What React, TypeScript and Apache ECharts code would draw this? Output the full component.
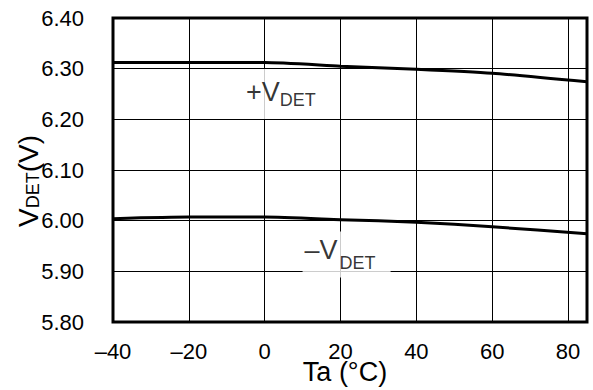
import React, { useEffect, useRef } from "react";
import * as echarts from "echarts";

// Ambient temperature (°C)
const temps = [-40, -20, 0, 20, 40, 60, 85];
// Detection voltages (V)
const vdetPlus = [6.312, 6.312, 6.312, 6.305, 6.299, 6.291, 6.274];
const vdetMinus = [6.004, 6.007, 6.007, 6.002, 5.997, 5.988, 5.974];

// Axis ticks
const xTicks = [-40, -20, 0, 20, 40, 60, 80];
const yTicks = [5.8, 5.9, 6.0, 6.1, 6.2, 6.3, 6.4];

// Curve label anchors [temp, voltage]
const plusLabelAt = [4.8, 6.25];
const minusLabelAt = [21.6, 5.933];

const FONT = "'Liberation Sans', Arial, sans-serif";

export default function App() {
  const ref = useRef<HTMLDivElement>(null);

  useEffect(() => {
    if (!ref.current) return;
    const chart = echarts.init(ref.current, null, { renderer: "svg" });
    const fmtX = (v: number) => {
      if (!xTicks.includes(v)) return "";
      return v < 0 ? "\u2013" + Math.abs(v) : String(v);
    };
    const fmtY = (v: number) => {
      const t = yTicks.find((y) => Math.abs(y - v) < 1e-6);
      return t === undefined ? "" : t.toFixed(2);
    };
    chart.setOption({
      animation: false,
      backgroundColor: "#fff",
      textStyle: { fontFamily: FONT, color: "#000" },
      grid: {
        left: 113,
        right: 6,
        top: 18,
        bottom: 68,
        show: true,
        borderColor: "#000",
        borderWidth: 3,
        backgroundColor: "transparent",
      },
      xAxis: {
        type: "value",
        min: -40,
        max: 85,
        interval: 20,
        axisLine: { show: false },
        axisTick: { show: false },
        splitLine: { show: true, lineStyle: { color: "#000", width: 1 } },
        axisLabel: {
          formatter: fmtX,
          fontSize: 22,
          color: "#000",
          fontFamily: FONT,
          margin: 18,
          showMaxLabel: false,
        },
      },
      yAxis: {
        type: "value",
        min: 5.8,
        max: 6.4,
        interval: 0.1,
        axisLine: { show: false },
        axisTick: { show: false },
        splitLine: { show: true, lineStyle: { color: "#000", width: 1 } },
        axisLabel: {
          formatter: fmtY,
          fontSize: 22,
          color: "#000",
          fontFamily: FONT,
          margin: 29,
        },
      },
      series: [
        {
          type: "line",
          data: temps.map((t, i) => [t, vdetPlus[i]]),
          showSymbol: false,
          smooth: 0.2,
          lineStyle: { color: "#000", width: 3 },
          silent: true,
        },
        {
          type: "line",
          data: temps.map((t, i) => [t, vdetMinus[i]]),
          showSymbol: false,
          smooth: 0.2,
          lineStyle: { color: "#000", width: 3 },
          silent: true,
        },
        {
          type: "scatter",
          symbolSize: 0,
          silent: true,
          z: 10,
          data: [plusLabelAt],
          label: {
            show: true,
            position: "inside",
            formatter: "{a|+V}{b|DET}",
            backgroundColor: "#fff",
            padding: [10, 11, 10, 7],
            rich: {
              a: { fontSize: 27, lineHeight: 30, fontFamily: FONT, color: "#000", verticalAlign: "bottom", padding: [0, 0, 4, 0] },
              b: { fontSize: 18, lineHeight: 20, fontFamily: FONT, color: "#000", verticalAlign: "bottom" },
            },
          },
        },
        {
          type: "scatter",
          symbolSize: 0,
          silent: true,
          z: 10,
          data: [minusLabelAt],
          label: {
            show: true,
            position: "inside",
            formatter: "{a|\u2013V}{b|DET}",
            backgroundColor: "#fff",
            padding: [10, 15, 6, 2],
            rich: {
              a: { fontSize: 27, lineHeight: 30, fontFamily: FONT, color: "#000", verticalAlign: "bottom", padding: [0, 0, 8, 0] },
              b: { fontSize: 18, lineHeight: 20, fontFamily: FONT, color: "#000", verticalAlign: "bottom", padding: [0, 0, 0, 2] },
            },
          },
        },
      ],
      graphic: [
        {
          type: "text",
          x: 345,
          y: 372,
          style: {
            text: "Ta (\u00B0C)",
            fontSize: 27,
            fontFamily: FONT,
            fill: "#000",
            align: "center",
            verticalAlign: "middle",
          },
        },
        {
          type: "text",
          x: 27,
          y: 181,
          rotation: Math.PI / 2,
          style: {
            text: "{v|V}{s|DET}{v|(V)}",
            fontFamily: FONT,
            fill: "#000",
            align: "center",
            verticalAlign: "middle",
            rich: {
              v: { fontSize: 28, lineHeight: 30, fontFamily: FONT, fill: "#000", verticalAlign: "bottom" },
              s: { fontSize: 18, lineHeight: 20, fontFamily: FONT, fill: "#000", verticalAlign: "bottom" },
            },
          },
        },
      ],
    });
    return () => chart.dispose();
  }, []);

  return (
    <div
      ref={ref}
      style={{ position: "fixed", left: 0, top: 0, width: 593, height: 390 }}
    />
  );
}
